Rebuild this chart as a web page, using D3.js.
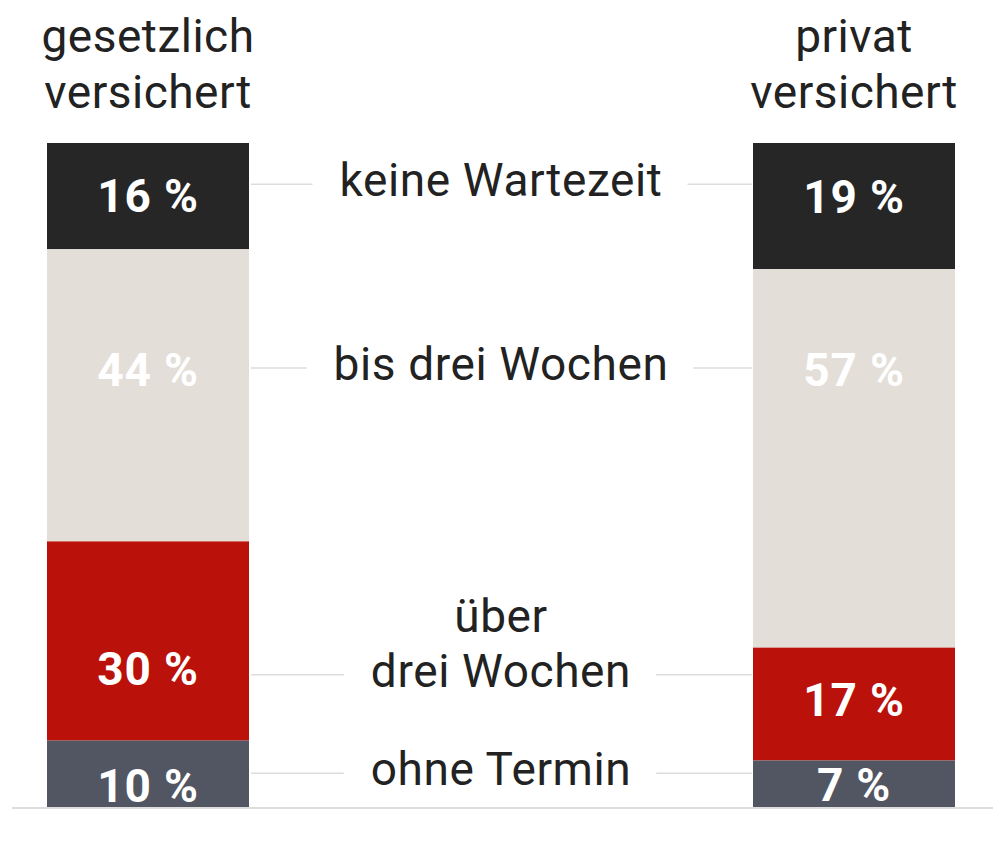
<!DOCTYPE html>
<html>
<head>
<meta charset="utf-8">
<script src="https://cdn.jsdelivr.net/npm/d3@7"></script>
<style>
  html, body { margin: 0; padding: 0; background: #fff; }
  svg { display: block; }
</style>
</head>
<body>
<svg id="chart" width="1000" height="850"></svg>
<script>
// ---- data ----
const groups = ["gesetzlich versichert", "privat versichert"];
const groupLines = [["gesetzlich", "versichert"], ["privat", "versichert"]];
const categories = ["keine Wartezeit", "bis drei Wochen", "über drei Wochen", "ohne Termin"];
const categoryLines = [["keine Wartezeit"], ["bis drei Wochen"], ["über", "drei Wochen"], ["ohne Termin"]];
const gesetzlich = [16, 44, 30, 10];
const privat = [19, 57, 17, 7];

// ---- layout (not data) ----
const catLabelAt = [6.2, 33.9, 80.1, 94.9];           // percent units on the y scale
const valueLabelAt = [[8.0, 34.2, 79.2, 96.8], [8.1, 34.2, 83.9, 96.7]];
const colors = ["#262626", "#e3ded8", "#bb110b", "#525562"];

const svg = d3.select("#chart");
const y = d3.scaleLinear().domain([0, 100]).range([143, 807]);
const x = d3.scaleBand().domain(groups).range([47, 955]).paddingInner(504 / 706).paddingOuter(0);
const color = d3.scaleOrdinal().domain(categories).range(colors);

const table = groups.map((g, i) => {
  const vals = i === 0 ? gesetzlich : privat;
  const row = { group: g };
  categories.forEach((c, j) => row[c] = vals[j]);
  return row;
});
const series = d3.stack().keys(categories)(table);

// baseline
svg.append("line")
  .attr("x1", 12).attr("x2", 993)
  .attr("y1", y(100) + 1).attr("y2", y(100) + 1)
  .attr("stroke", "#dddddd").attr("stroke-width", 2);

// bars
svg.append("g").selectAll("g").data(series).join("g")
  .attr("fill", d => color(d.key))
  .selectAll("rect").data(d => d).join("rect")
  .attr("x", d => x(d.data.group))
  .attr("width", x.bandwidth())
  .attr("y", d => y(d[0]))
  .attr("height", d => y(d[1]) - y(d[0]));

// value labels
const valG = svg.append("g");
series.forEach((s, j) => {
  s.forEach((d, i) => {
    valG.append("text")
      .attr("x", x(d.data.group) + x.bandwidth() / 2)
      .attr("y", y(valueLabelAt[i][j]) + 16)
      .attr("text-anchor", "middle")
      .attr("font-family", "Roboto, 'Noto Sans', sans-serif")
      .attr("font-weight", 700)
      .attr("font-size", 46)
      .attr("letter-spacing", 0.8)
      .attr("fill", "#ffffff")
      .text((d[1] - d[0]) + " %");
  });
});

// group headers
groupLines.forEach((lines, i) => {
  const t = svg.append("text")
    .attr("text-anchor", "middle")
    .attr("font-family", "Roboto, 'Noto Sans', sans-serif")
    .attr("font-size", 46)
    .attr("letter-spacing", 0.5)
    .attr("fill", "#222222");
  lines.forEach((l, k) => {
    t.append("tspan")
      .attr("x", x(groups[i]) + x.bandwidth() / 2)
      .attr("y", 52 + k * 56)
      .text(l);
  });
});

// category labels with connector lines
const midX = (x(groups[0]) + x.bandwidth() + x(groups[1])) / 2;
categoryLines.forEach((lines, j) => {
  const ly = y(catLabelAt[j]);
  const t = svg.append("text")
    .attr("text-anchor", "middle")
    .attr("font-family", "Roboto, 'Noto Sans', sans-serif")
    .attr("font-size", 46)
    .attr("letter-spacing", 0.6)
    .attr("fill", "#222222");
  const n = lines.length;
  lines.forEach((l, k) => {
    t.append("tspan")
      .attr("x", midX)
      .attr("y", ly + 12 - (n - 1 - k) * 55)
      .text(l);
  });
  const lastW = t.selectAll("tspan").nodes()[n - 1].getComputedTextLength();
  const half = lastW / 2;
  svg.append("line")
    .attr("x1", x(groups[0]) + x.bandwidth() + 2).attr("x2", midX - half - 27)
    .attr("y1", ly).attr("y2", ly)
    .attr("stroke", "#dddddd").attr("stroke-width", 1.5);
  svg.append("line")
    .attr("x1", midX + half + 25).attr("x2", x(groups[1]) - 1)
    .attr("y1", ly).attr("y2", ly)
    .attr("stroke", "#dddddd").attr("stroke-width", 1.5);
});
</script>
</body>
</html>
